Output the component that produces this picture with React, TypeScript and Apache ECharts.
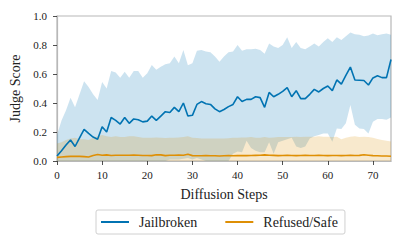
import React, { useEffect, useRef } from "react";
import * as echarts from "echarts";

const steps: string[] = Array.from({ length: 75 }, (_, i) => String(i));

const jailMean: number[] = [
  0.034, 0.07, 0.11, 0.145, 0.1, 0.16, 0.218, 0.19, 0.165, 0.15,
  0.236, 0.2, 0.3, 0.28, 0.255, 0.3, 0.26, 0.29, 0.285, 0.27,
  0.275, 0.31, 0.28, 0.31, 0.34, 0.335, 0.37, 0.34, 0.4, 0.31,
  0.315, 0.39, 0.41, 0.395, 0.39, 0.36, 0.34, 0.355, 0.375, 0.39,
  0.443, 0.41, 0.425, 0.425, 0.443, 0.437, 0.37, 0.473, 0.443, 0.46,
  0.48, 0.506, 0.443, 0.485, 0.43, 0.43, 0.46, 0.494, 0.476, 0.5,
  0.517, 0.485, 0.559, 0.53, 0.59, 0.648, 0.559, 0.557, 0.555, 0.524,
  0.573, 0.588, 0.575, 0.575, 0.7,
];
const jailUpper: number[] = [
  0.18, 0.28, 0.35, 0.437, 0.37, 0.46, 0.55, 0.51, 0.46, 0.42,
  0.545, 0.5, 0.62, 0.61, 0.575, 0.615, 0.575, 0.62, 0.62, 0.575,
  0.605, 0.662, 0.63, 0.65, 0.668, 0.675, 0.72, 0.675, 0.766, 0.66,
  0.675, 0.76, 0.766, 0.755, 0.75, 0.72, 0.685, 0.72, 0.75, 0.755,
  0.8, 0.76, 0.77, 0.77, 0.775, 0.765, 0.74, 0.81, 0.79, 0.78,
  0.8, 0.853, 0.78, 0.82, 0.78, 0.77, 0.79, 0.81, 0.79, 0.82,
  0.846, 0.82, 0.853, 0.835, 0.86, 0.887, 0.874, 0.87, 0.86, 0.865,
  0.88, 0.867, 0.875, 0.88, 0.87,
];
const jailLower: number[] = [
  0, 0, 0, 0, 0, 0, 0, 0, 0, 0,
  0, 0, 0, 0, 0, 0, 0, 0, 0, 0,
  0, 0, 0, 0, 0, 0.01, 0.01, 0.01, 0.015, 0.02,
  0.01, 0.02, 0.01, 0, 0, 0, 0, 0, 0, 0.05,
  0.065, 0.06, 0.14, 0.09, 0.07, 0.06, 0.06, 0.13, 0.05, 0.13,
  0.14, 0.15, 0.16, 0.1, 0.09, 0.1, 0.156, 0.17, 0.18, 0.19,
  0.19, 0.133, 0.225, 0.22, 0.26, 0.386, 0.25, 0.225, 0.22, 0.19,
  0.27, 0.29, 0.29, 0.285, 0.3,
];
const safeMean: number[] = [
  0.025, 0.028, 0.03, 0.032, 0.033, 0.032, 0.03, 0.028, 0.038, 0.045,
  0.04, 0.042, 0.038, 0.04, 0.04, 0.04, 0.04, 0.041, 0.04, 0.038,
  0.038, 0.037, 0.043, 0.042, 0.037, 0.04, 0.04, 0.041, 0.04, 0.046,
  0.037, 0.036, 0.036, 0.037, 0.036, 0.036, 0.035, 0.036, 0.037, 0.036,
  0.037, 0.038, 0.037, 0.038, 0.039, 0.04, 0.042, 0.04, 0.039, 0.037,
  0.038, 0.039, 0.038, 0.037, 0.038, 0.039, 0.038, 0.038, 0.039, 0.038,
  0.037, 0.038, 0.038, 0.037, 0.038, 0.039, 0.038, 0.039, 0.043, 0.04,
  0.037, 0.036, 0.035, 0.034, 0.033,
];
const safeUpper: number[] = [
  0.12, 0.13, 0.145, 0.155, 0.16, 0.15, 0.15, 0.145, 0.16, 0.17,
  0.18, 0.17, 0.165, 0.17, 0.165, 0.165, 0.17, 0.17, 0.165, 0.16,
  0.16, 0.16, 0.162, 0.16, 0.158, 0.16, 0.16, 0.162, 0.165, 0.17,
  0.16, 0.158, 0.156, 0.155, 0.156, 0.155, 0.156, 0.155, 0.157, 0.16,
  0.16, 0.162, 0.162, 0.165, 0.16, 0.16, 0.165, 0.16, 0.162, 0.165,
  0.165, 0.166, 0.165, 0.168, 0.166, 0.168, 0.168, 0.168, 0.17, 0.168,
  0.168, 0.166, 0.168, 0.15, 0.16, 0.168, 0.17, 0.166, 0.168, 0.165,
  0.16, 0.152, 0.145, 0.14, 0.135,
];
const safeLower: number[] = new Array(75).fill(0);

const BLUE = "#0173B2";
const ORANGE = "#DE8F05";
const FONT = "Liberation Serif";
const TXT = "#222";

export default function App() {
  const ref = useRef<HTMLDivElement>(null);
  useEffect(() => {
    if (!ref.current) return;
    const chart = echarts.init(ref.current, null, { renderer: "svg" });
    const band = (name: string, lo: number[], hi: number[], color: string) => [
      {
        name: name + "-lo",
        type: "line",
        stack: name,
        data: lo,
        symbol: "none",
        lineStyle: { width: 0, opacity: 0 },
        silent: true,
        z: 1,
      },
      {
        name: name + "-band",
        type: "line",
        stack: name,
        data: hi.map((v, i) => +(v - lo[i]).toFixed(4)),
        symbol: "none",
        lineStyle: { width: 0, opacity: 0 },
        areaStyle: { color, opacity: 1 },
        silent: true,
        z: 1,
      },
    ];
    chart.setOption({
      animation: false,
      grid: {
        left: 57,
        right: 12,
        top: 16,
        bottom: 86,
        show: true,
        borderColor: "#b8b8b8",
        borderWidth: 1.2,
        backgroundColor: "transparent",
      },
      legend: {
        data: ["Jailbroken", "Refused/Safe"],
        left: 96,
        top: 210,
        itemWidth: 28,
        itemHeight: 2,
        icon: "rect",
        itemGap: 28,
        padding: [5, 7, 5, 5],
        borderColor: "#d0d0d0",
        borderWidth: 1,
        borderRadius: 2,
        textStyle: { fontFamily: FONT, fontSize: 14, color: TXT, padding: [0, 0, 0, 5] },
      },
      xAxis: {
        type: "category",
        data: steps,
        boundaryGap: false,
        name: "Diffusion Steps",
        nameLocation: "middle",
        nameGap: 26,
        nameTextStyle: { fontFamily: FONT, fontSize: 14, color: TXT },
        axisLine: { show: true, lineStyle: { color: "#b8b8b8", width: 1.2 } },
        axisTick: { show: true, length: 4, interval: 9, lineStyle: { color: TXT, width: 0.8 } },
        axisLabel: { fontFamily: FONT, fontSize: 11, color: TXT, margin: 8, interval: 9 },
        splitLine: { show: false },
      },
      yAxis: {
        type: "value",
        min: 0,
        max: 1,
        interval: 0.2,
        name: "Judge Score",
        nameLocation: "middle",
        nameGap: 33,
        nameTextStyle: { fontFamily: FONT, fontSize: 14, color: TXT },
        axisLine: { show: true, lineStyle: { color: "#b8b8b8", width: 1.2 } },
        axisTick: { show: true, length: 4, lineStyle: { color: TXT, width: 0.8 } },
        axisLabel: {
          fontFamily: FONT,
          fontSize: 11,
          color: TXT,
          margin: 10,
          formatter: (v: number) => v.toFixed(1),
        },
        splitLine: { show: false },
      },
      series: [
        ...band("jb", jailLower, jailUpper, "rgba(1,115,178,0.2)"),
        ...band("sf", safeLower, safeUpper, "rgba(222,143,5,0.2)"),
        {
          name: "Jailbroken",
          type: "line",
          data: jailMean,
          symbol: "none",
          lineStyle: { color: BLUE, width: 1.6 },
          itemStyle: { color: BLUE },
          z: 3,
        },
        {
          name: "Refused/Safe",
          type: "line",
          data: safeMean,
          symbol: "none",
          lineStyle: { color: ORANGE, width: 1.6 },
          itemStyle: { color: ORANGE },
          z: 3,
        },
      ],
    });
    return () => chart.dispose();
  }, []);
  return (
    <div
      ref={ref}
      style={{ position: "absolute", left: 0, top: 0, width: 403, height: 247, background: "#fff" }}
    />
  );
}
